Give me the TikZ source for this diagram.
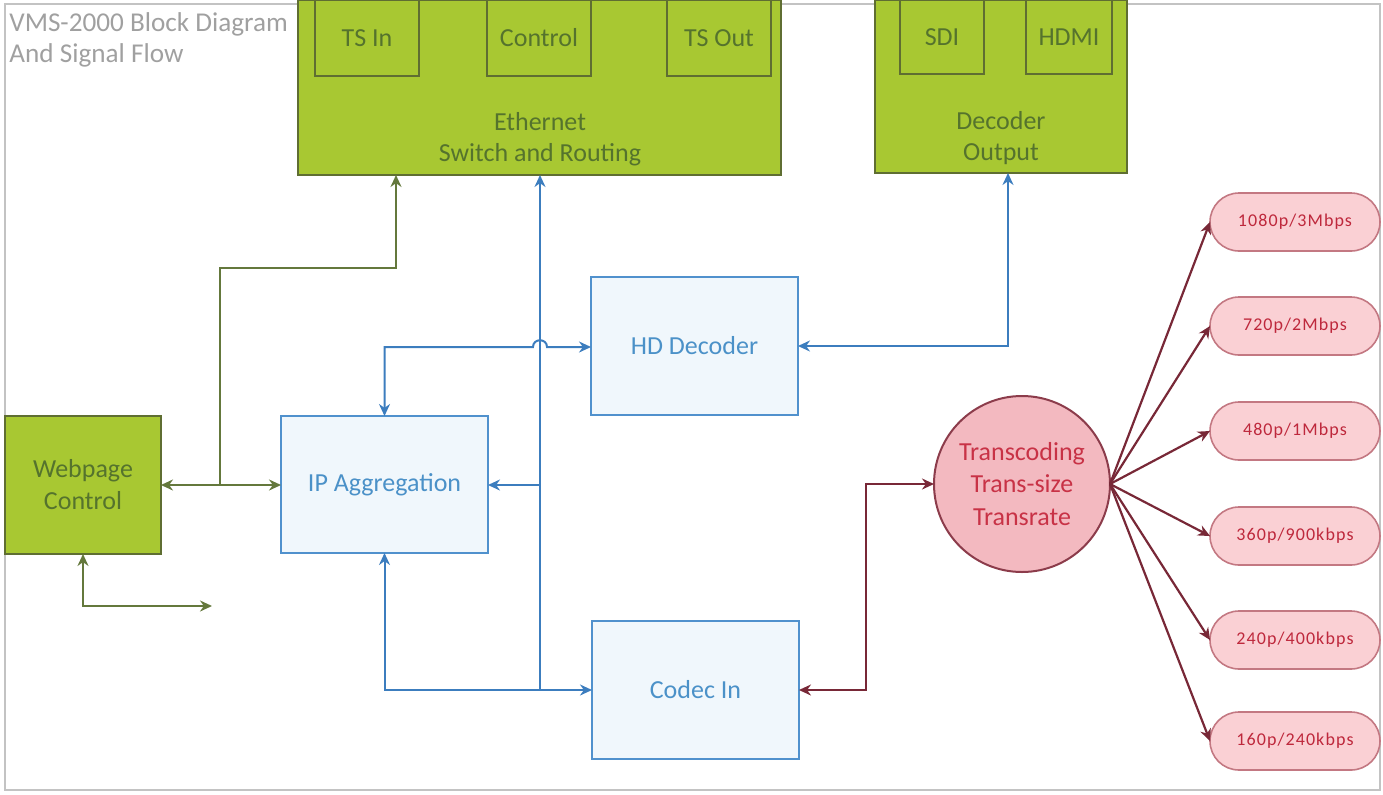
\documentclass[tikz,border=0pt]{standalone}
\usepackage{fontspec}
\setmainfont{Carlito}
\usetikzlibrary{arrows.meta,shapes.geometric}
\definecolor{gfill}{RGB}{168,200,50}
\definecolor{gdraw}{RGB}{95,110,50}
\definecolor{gtext}{RGB}{85,115,45}
\definecolor{gline}{RGB}{100,120,60}
\definecolor{bline}{RGB}{60,125,190}
\definecolor{bdraw}{RGB}{80,145,205}
\definecolor{bfill}{RGB}{240,247,252}
\definecolor{btext}{RGB}{75,145,200}
\definecolor{rline}{RGB}{120,40,55}
\definecolor{cfill}{RGB}{243,185,192}
\definecolor{cdraw}{RGB}{140,60,75}
\definecolor{ctext}{RGB}{200,50,70}
\definecolor{pfill}{RGB}{250,208,212}
\definecolor{pdraw}{RGB}{195,120,130}
\definecolor{ptext}{RGB}{190,40,60}
\definecolor{frame}{RGB}{195,195,195}
\definecolor{ttext}{RGB}{160,160,160}
\tikzset{
  box/.style={rectangle,inner sep=0pt,outer sep=0pt,line width=1pt},
  gbox/.style={box,draw=gdraw,fill=gfill,text=gtext,font=\fontsize{13}{16}\selectfont,align=center},
  bbox/.style={box,draw=bdraw,fill=bfill,text=btext,font=\fontsize{13}{16}\selectfont,align=center},
  lbl/.style={inner sep=0pt,align=center,font=\fontsize{13}{15.5}\selectfont},
  pill/.style={rectangle,rounded corners=14.5pt,draw=pdraw,fill=pfill,line width=0.8pt,
    minimum width=85pt,minimum height=29pt,inner sep=0pt,outer sep=0pt,text=ptext,
    font=\fontsize{9}{11}\selectfont\addfontfeature{LetterSpace=6}},
  tip/.style={-{Stealth[length=6pt,width=5.5pt]}},
  tips/.style={{Stealth[length=6pt,width=5.5pt]}-{Stealth[length=6pt,width=5.5pt]}},
  bl/.style={draw=bline,line width=1pt},
  gr/.style={draw=gline,line width=1pt},
  rd/.style={draw=rline,line width=1.1pt},
}
\begin{document}
\begin{tikzpicture}[x=0.5pt,y=-0.5pt]
\useasboundingbox (0,0) rectangle (1383,794);
\draw[frame,line width=0.8pt] (5,4) rectangle (1380,790);
% title
\node[anchor=north west,inner sep=0pt,align=left,text=ttext,font=\fontsize{13.6}{15.5}\selectfont] (title) at (9,12) {VMS-2000 Block Diagram\\And Signal Flow};
% Ethernet block
\node[gbox,minimum width=241.5pt,minimum height=87.5pt] (eth) at (539.5,87.5) {};
\node[gbox,minimum width=52pt,minimum height=38pt] (tsin) at (367,38) {TS In};
\node[gbox,minimum width=52pt,minimum height=38pt] (ctrl) at (539,38) {Control};
\node[gbox,minimum width=52pt,minimum height=38pt] (tsout) at (719,38) {TS Out};
\node[lbl,text=gtext] (ethl) at (540,139) {Ethernet\\Switch and Routing};
% Decoder output block
\node[gbox,minimum width=126pt,minimum height=86.5pt] (dec) at (1001,86.5) {};
\node[gbox,minimum width=42pt,minimum height=37pt] (sdi) at (942,37) {SDI};
\node[gbox,minimum width=43pt,minimum height=37pt] (hdmi) at (1069,37) {HDMI};
\node[lbl,text=gtext] (decl) at (1001,138) {Decoder\\Output};
% other blocks
\node[gbox,minimum width=78pt,minimum height=69pt] (web) at (83,485) {Webpage\\Control};
\node[bbox,minimum width=103.5pt,minimum height=68.5pt] (ipagg) at (384.5,484.5) {IP Aggregation};
\node[bbox,minimum width=103.5pt,minimum height=69pt] (hddec) at (694.5,346) {HD Decoder};
\node[bbox,minimum width=103.5pt,minimum height=69pt] (codec) at (695.5,690) {Codec In};
\node[circle,draw=cdraw,fill=cfill,line width=1pt,minimum size=88pt,inner sep=0pt,outer sep=0pt,
  text=ctext,align=center,font=\fontsize{13}{16.2}\selectfont] (circ) at (1022,484) {Transcoding\\Trans-size\\Transrate};
\node[pill] (p1) at (1295,222) {1080p/3Mbps};
\node[pill] (p2) at (1295,326) {720p/2Mbps};
\node[pill] (p3) at (1295,431) {480p/1Mbps};
\node[pill] (p4) at (1295,536) {360p/900kbps};
\node[pill] (p5) at (1295,640) {240p/400kbps};
\node[pill] (p6) at (1295,741) {160p/240kbps};
% coordinates
\coordinate (jb) at (540,690);
\coordinate (jm) at (540,485);
\coordinate (jl) at (533,347);
\coordinate (jr) at (547,347);
\coordinate (din) at (1008,173);
\coordinate (gj) at (220,485);
\coordinate (gk) at (396,268);
\coordinate (gend) at (212,606);
\coordinate (rk) at (866,484);
% blue connectors
\draw[bl,tip] (jb) -- (jb |- eth.south);
\draw[bl,tip] (jm) -- (ipagg.east |- jm);
\draw[bl,tip] (jb) -- (codec.west |- jb);
\draw[bl,tip] (jb) -| (ipagg.south);
\draw[bl,tips] (ipagg.north) |- (jl) .. controls ([yshift=4.5pt]jl) and ([yshift=4.5pt]jr) .. (jr) -- (hddec.west |- jr);
\draw[bl,tips] (hddec.east) -| (din);
% green connectors
\draw[gr,tips] (web.east) -- (ipagg.west |- web.east);
\draw[gr,tip] (gj) |- (gk) -- (gk |- eth.south);
\draw[gr,tips] (web.south) |- (gend);
% red connectors
\draw[rd,tips] (codec.east) -| (rk) -- (circ.west);
\foreach \p in {p1,p2,p3,p4,p5,p6}{
  \draw[rd,tip] (circ.east) -- (\p.west);
}
\end{tikzpicture}
\end{document}
